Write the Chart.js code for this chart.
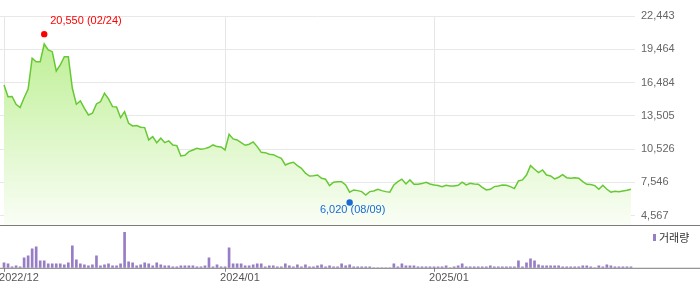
<!DOCTYPE html>
<html>
<head>
<meta charset="utf-8">
<script src="https://cdn.jsdelivr.net/npm/chart.js@4.4.1/dist/chart.umd.min.js"></script>
<style>
    html, body { margin: 0; padding: 0; background: #fff; }
    #wrap { position: relative; width: 700px; height: 289px; }
    #priceBox { position: absolute; left: 0; top: 0; width: 700px; height: 226px; }
    #volBox { position: absolute; left: 0; top: 226px; width: 700px; height: 63px; }
</style>
</head>
<body>
<div id="wrap">
    <div id="priceBox"><canvas id="priceChart"></canvas></div>
    <div id="volBox"><canvas id="volChart"></canvas></div>
</div>
<script>
// weekly close, 2022/12 ~ 2025/12
const prices = [
    16270, 15220, 15240, 14540, 14240, 15130, 15910, 18660, 18350, 18350,
    19940, 19400, 19250, 17520, 18060, 18800, 18800, 15970, 14540, 14840,
    14180, 13580, 13740, 14570, 14770, 15530, 15020, 14330, 14300, 13340,
    13880, 12840, 12600, 12630, 12480, 12450, 11350, 11640, 11100, 11500,
    11100, 11260, 10900, 10840, 9910, 9980, 10300, 10450, 10600, 10510,
    10570, 10690, 10900, 10750, 10720, 10450, 11860, 11440, 11350, 11100,
    10870, 10960, 11170, 10750, 10240, 10210, 10070, 10030, 9850, 9700,
    9110, 9260, 9350, 9050, 8810, 8370, 8120, 8150, 8210, 7920,
    7830, 7260, 7560, 7610, 7610, 7320, 6670, 6870, 6810, 6720,
    6420, 6720, 6780, 6930, 6810, 6720, 6670, 7320, 7610, 7830,
    7410, 7770, 7380, 7380, 7440, 7560, 7410, 7320, 7260, 7170,
    7290, 7230, 7230, 7290, 7560, 7320, 7470, 7410, 7380, 7110,
    6870, 6930, 7170, 7230, 7320, 7290, 7170, 6990, 7680, 7770,
    8210, 9050, 8720, 8420, 8660, 8210, 8120, 7860, 8010, 8240,
    7970, 7920, 7970, 7920, 7610, 7380, 7350, 7260, 6930, 7290,
    6930, 6670, 6760, 6720, 6780, 6840, 6930
];

// 거래량 (천주)
const volumes = [
    500, 400, 100, 200, 100, 1000, 1200, 1900, 2100, 700,
    700, 400, 400, 400, 400, 300, 500, 2200, 800, 400,
    300, 200, 300, 1200, 200, 300, 400, 200, 200, 400,
    3600, 600, 500, 200, 300, 500, 400, 200, 500, 300,
    200, 200, 100, 100, 200, 200, 200, 200, 100, 100,
    200, 1000, 100, 300, 100, 100, 2000, 400, 400, 400,
    200, 200, 300, 400, 400, 100, 200, 200, 100, 100,
    400, 200, 100, 300, 100, 300, 100, 100, 200, 300,
    100, 200, 100, 100, 400, 200, 300, 100, 100, 100,
    100, 100, 0, 0, 0, 0, 0, 400, 100, 400,
    200, 200, 200, 100, 100, 100, 100, 100, 100, 100,
    200, 0, 100, 200, 400, 100, 100, 100, 100, 100,
    100, 200, 100, 100, 100, 100, 100, 100, 700, 100,
    500, 900, 700, 300, 200, 200, 200, 200, 200, 100,
    100, 100, 100, 100, 200, 200, 100, 0, 200, 100,
    300, 200, 100, 100, 100, 100, 100
];

const tickWeeks = [0, 55, 107];
const tickLabels = ['2022/12', '2024/01', '2025/01'];
const priceTicks = [22443, 19464, 16484, 13505, 10526, 7546, 4567];
const priceMin = 3733;
const volMax = 3600;

// [week, value, date]
const highMark = [10, 20550, '02/24'];
const lowMark = [86, 6020, '08/09'];

const FONT = 'Liberation Sans, Arial, sans-serif';

const fmt = v => Number(v).toLocaleString('en-US');

const hiLoPlugin = {
    id: 'hiLo',
    afterDatasetsDraw(chart) {
        const { ctx, scales } = chart;
        ctx.save();
        ctx.font = '11px ' + FONT;
        ctx.textBaseline = 'middle';

        // 최고가
        const hx = scales.x.getPixelForValue(highMark[0]);
        const hy = scales.y.getPixelForValue(highMark[1]) - 3;
        ctx.fillStyle = '#ff0000';
        ctx.beginPath();
        ctx.arc(hx, hy, 3.2, 0, Math.PI * 2);
        ctx.fill();
        ctx.textAlign = 'left';
        ctx.fillText(fmt(highMark[1]) + ' (' + highMark[2] + ')', hx + 6, hy - 13);

        // 최저가
        const lx = scales.x.getPixelForValue(lowMark[0]);
        const ly = scales.y.getPixelForValue(lowMark[1]) + 3;
        ctx.fillStyle = '#1a6ad6';
        ctx.beginPath();
        ctx.arc(lx, ly, 3.2, 0, Math.PI * 2);
        ctx.fill();
        ctx.textAlign = 'center';
        ctx.fillText(fmt(lowMark[1]) + ' (' + lowMark[2] + ')', lx + 3, ly + 8);

        // 하단 구분선
        ctx.strokeStyle = '#7a7a7a';
        ctx.lineWidth = 1;
        ctx.beginPath();
        ctx.moveTo(0, chart.chartArea.bottom + 0.5);
        ctx.lineTo(chart.width, chart.chartArea.bottom + 0.5);
        ctx.stroke();
        ctx.restore();
    }
};

const volPlugin = {
    id: 'volDeco',
    afterDraw(chart) {
        const { ctx, chartArea } = chart;
        ctx.save();
        ctx.strokeStyle = '#7a7a7a';
        ctx.lineWidth = 1;
        ctx.beginPath();
        ctx.moveTo(0, chartArea.bottom + 0.5);
        ctx.lineTo(chart.width, chartArea.bottom + 0.5);
        ctx.stroke();

        // 범례
        ctx.fillStyle = '#977dc6';
        ctx.fillRect(653, 8, 3, 7);
        ctx.fillStyle = '#333';
        ctx.font = '11px "Noto Sans CJK KR", sans-serif';
        ctx.textAlign = 'left';
        ctx.textBaseline = 'middle';
        ctx.fillText('거래량', 659, 11.5);
        ctx.restore();
    }
};

new Chart(document.getElementById('priceChart'), {
    type: 'line',
    data: {
        datasets: [{
            data: prices.map((v, i) => ({ x: i, y: v })),
            borderColor: '#66c933',
            borderWidth: 1.5,
            pointRadius: 0,
            tension: 0,
            fill: 'start',
            backgroundColor: (context) => {
                const area = context.chart.chartArea;
                if (!area) return '#e0f7cc';
                const g = context.chart.ctx.createLinearGradient(0, area.top, 0, area.bottom);
                g.addColorStop(0, '#b6ed88');
                g.addColorStop(1, '#fafef6');
                return g;
            }
        }]
    },
    options: {
        responsive: true,
        maintainAspectRatio: false,
        animation: false,
        layout: { padding: { top: 16, bottom: 0, left: 0, right: 0 } },
        plugins: { legend: { display: false }, tooltip: { enabled: false } },
        scales: {
            x: {
                type: 'linear',
                min: -1,
                max: 157,
                afterBuildTicks: s => { s.ticks = tickWeeks.map(v => ({ value: v })); },
                afterFit: s => { s.height = 1; },
                ticks: { display: false },
                grid: { color: '#e6e6e6', drawTicks: false },
                border: { display: false }
            },
            y: {
                position: 'right',
                min: priceMin,
                max: priceTicks[0],
                afterBuildTicks: s => { s.ticks = priceTicks.map(v => ({ value: v })); },
                afterFit: s => {
                    s.width = 65;
                    s.paddingTop = 0;
                    s.paddingBottom = 0;
                },
                ticks: {
                    padding: 6,
                    color: '#666',
                    font: { family: FONT, size: 11 },
                    callback: v => fmt(v)
                },
                grid: { color: '#e8e8e8', drawTicks: false },
                border: { display: false }
            }
        }
    },
    plugins: [hiLoPlugin]
});

new Chart(document.getElementById('volChart'), {
    type: 'line',
    data: {
        datasets: [{
            type: 'bar',
            data: volumes.map((v, i) => ({ x: i, y: v })),
            backgroundColor: '#977dc6',
            barThickness: 2
        }]
    },
    options: {
        responsive: true,
        maintainAspectRatio: false,
        animation: false,
        layout: { padding: { top: 6, bottom: 4, left: 0, right: 65 } },
        plugins: { legend: { display: false }, tooltip: { enabled: false } },
        scales: {
            x: {
                type: 'linear',
                offset: false,
                min: -1,
                max: 157,
                afterBuildTicks: s => { s.ticks = tickWeeks.map(v => ({ value: v })); },
                afterFit: s => { s.paddingLeft = 0; s.paddingRight = 0; },
                ticks: {
                    align: 'start',
                    labelOffset: -5,
                    autoSkip: false,
                    maxRotation: 0,
                    padding: 0,
                    color: '#555',
                    font: { family: FONT, size: 11 },
                    callback: v => tickLabels[tickWeeks.indexOf(v)]
                },
                grid: { offset: false, drawOnChartArea: false, drawTicks: true, tickLength: 4, color: '#888' },
                border: { display: false }
            },
            y: {
                display: false,
                min: 0,
                max: volMax
            }
        }
    },
    plugins: [volPlugin]
});
</script>
</body>
</html>
